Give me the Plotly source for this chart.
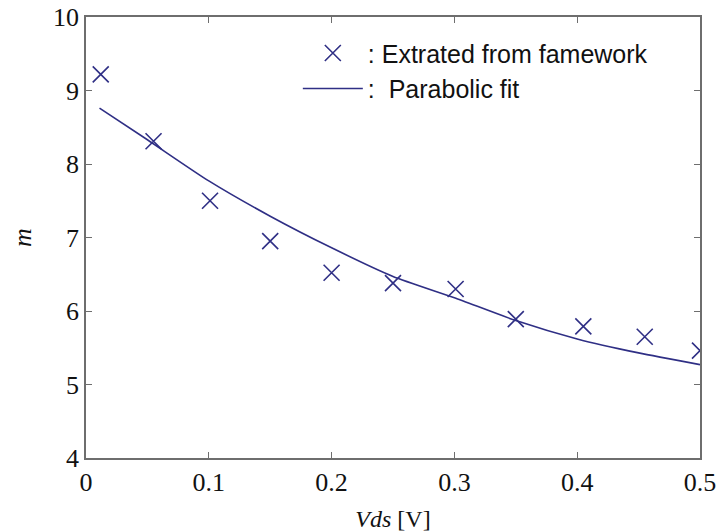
import plotly.graph_objects as go

# Extracted points
vds_pts = [0.012, 0.055, 0.101, 0.15, 0.2, 0.25, 0.301, 0.35, 0.405, 0.455, 0.5]
m_pts = [9.22, 8.31, 7.50, 6.95, 6.52, 6.38, 6.30, 5.89, 5.79, 5.65, 5.46]

# Parabolic fit curve
vds_fit = [0.011, 0.05, 0.1, 0.15, 0.2, 0.25, 0.3, 0.35, 0.4, 0.45, 0.5]
m_fit = [8.76, 8.33, 7.77, 7.29, 6.86, 6.47, 6.18, 5.87, 5.62, 5.43, 5.27]

x_ticks = [0, 0.1, 0.2, 0.3, 0.4, 0.5]
x_tick_labels = ["0", "0.1", "0.2", "0.3", "0.4", "0.5"]
y_ticks = [4, 5, 6, 7, 8, 9, 10]
y_tick_labels = ["4", "5", "6", "7", "8", "9", "10"]

navy = "#2f2f85"
axis_col = "#6e6e6e"
serif = "Liberation Serif, Times New Roman, serif"

fig = go.Figure()
fig.add_trace(go.Scatter(
    x=vds_pts, y=m_pts, mode="markers", name=": Extrated from famework",
    legendgroup="a",
    marker=dict(symbol="x-thin", size=16, color=navy,
                line=dict(width=1.6, color=navy)),
))
fig.add_trace(go.Scatter(
    x=vds_fit, y=m_fit, mode="lines", name=":  Parabolic fit",
    legendgroup="b",
    line=dict(color=navy, width=1.6, shape="spline", smoothing=0.6),
))

axis_common = dict(
    showgrid=False, zeroline=False, showline=True, linecolor=axis_col,
    linewidth=1.5, mirror="ticks", ticks="inside", ticklen=6,
    tickcolor=axis_col, tickwidth=1.2, automargin=False,
    tickfont=dict(family=serif, size=26, color="#111111"),
)

fig.update_layout(
    width=717, height=532,
    margin=dict(l=86, r=17, t=17, b=74),
    paper_bgcolor="white", plot_bgcolor="white",
    showlegend=True,
    legend=dict(
        x=0.345, y=0.97, xanchor="left", yanchor="top",
        bgcolor="rgba(0,0,0,0)", borderwidth=0,
        font=dict(family="Liberation Sans, Arial, sans-serif", size=25, color="#111111"),
        tracegroupgap=0, itemwidth=60,
    ),
    xaxis=dict(
        range=[0, 0.5], tickvals=x_ticks, ticktext=x_tick_labels,
        title=dict(text="<i>Vds</i> [V]", font=dict(family=serif, size=24, color="#111111"),
                   standoff=15),
        **axis_common,
    ),
    yaxis=dict(
        range=[4, 10], tickvals=y_ticks, ticktext=y_tick_labels,
        title=dict(text="<i>m</i>", font=dict(family=serif, size=26, color="#111111"),
                   standoff=14),
        **axis_common,
    ),
)

fig.write_html("out.html")
